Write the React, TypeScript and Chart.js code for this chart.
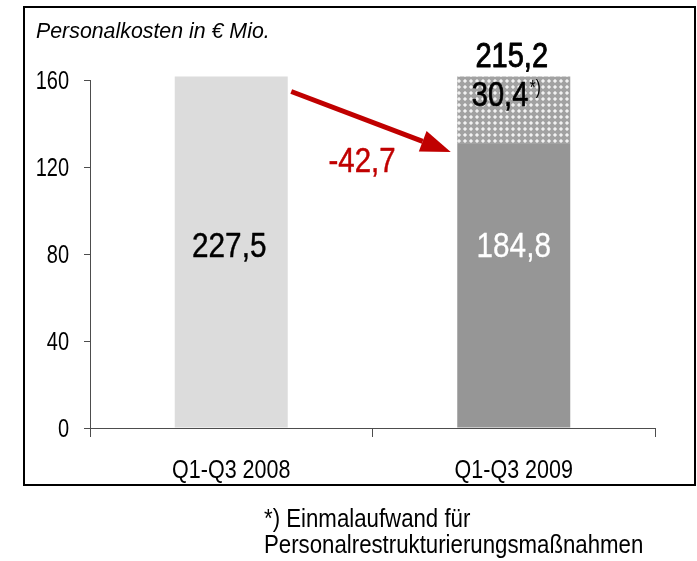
import React, { useEffect, useRef } from "react";
import { Chart, registerables } from "chart.js";

Chart.register(...registerables);

const categories = ["Q1-Q3 2008", "Q1-Q3 2009"];
// plotted heights (axis is truncated at 160, as in the original)
const baseValues = [161.6, 130.6];
const oneOffValues = [null, 31.0];
const baseLabels = ["227,5", "184,8"];
const oneOffLabel = "30,4";
const totalLabel2009 = "215,2";
const deltaLabel = "-42,7";
const yTicks = [0, 40, 80, 120, 160];
const title = "Personalkosten in € Mio.";
const footnote = ["*) Einmalaufwand für", "Personalrestrukturierungsmaßnahmen"];

const FONT = "'Liberation Sans', Arial, sans-serif";
const RED = "#c00000";
const AXIS = "#4d4d4d";

type TOpts = {
  size: number;
  align?: CanvasTextAlign;
  color?: string;
  italic?: boolean;
  bold?: boolean;
  sx?: number;
  stroke?: number;
};

function txt(ctx: CanvasRenderingContext2D, s: string, x: number, y: number, o: TOpts) {
  ctx.save();
  ctx.font = `${o.italic ? "italic " : ""}${o.bold ? "bold " : ""}${o.size}px ${FONT}`;
  ctx.translate(x, y);
  ctx.scale(o.sx ?? 0.85, 1);
  ctx.textAlign = o.align ?? "left";
  ctx.textBaseline = "alphabetic";
  ctx.fillStyle = o.color ?? "#000000";
  ctx.fillText(s, 0, 0);
  if (o.stroke) {
    ctx.lineWidth = o.stroke;
    ctx.strokeStyle = o.color ?? "#000000";
    ctx.lineJoin = "round";
    ctx.strokeText(s, 0, 0);
  }
  ctx.restore();
}

function makePattern(): CanvasPattern | string {
  const c = document.createElement("canvas");
  c.width = 6;
  c.height = 6;
  const g = c.getContext("2d");
  if (!g) return "#c0c0c0";
  g.fillStyle = "#a2a2a2";
  g.fillRect(0, 0, 6, 6);
  g.fillStyle = "#d2d2d2";
  g.fillRect(2, 1, 2, 4);
  g.fillRect(1, 2, 4, 2);
  g.fillStyle = "#f2f2f2";
  g.fillRect(2, 2, 2, 2);
  const p = g.createPattern(c, "repeat");
  return p || "#c0c0c0";
}

const decorPlugin = {
  id: "decor",
  beforeDraw(chart: any) {
    const ctx = chart.ctx;
    ctx.save();
    ctx.fillStyle = "#ffffff";
    ctx.fillRect(0, 0, chart.width, chart.height);
    ctx.strokeStyle = "#000000";
    ctx.lineWidth = 2;
    ctx.strokeRect(24, 7, 671, 478);
    ctx.restore();
    txt(ctx, title, 36, 38, { size: 22, italic: true, sx: 0.97 });
    txt(ctx, footnote[0], 264, 527, { size: 26, sx: 0.855 });
    txt(ctx, footnote[1], 264, 553, { size: 26, sx: 0.855 });
  },
  afterDraw(chart: any) {
    const ctx = chart.ctx;
    const ys = chart.scales.y;
    const xs = chart.scales.x;
    yTicks.forEach((v) => {
      txt(ctx, String(v), ys.right - 21, ys.getPixelForValue(v) + 9, { size: 25, align: "right", sx: 0.8 });
    });
    categories.forEach((c, i) => {
      txt(ctx, c, xs.getPixelForValue(i), 478, { size: 25, align: "center", sx: 0.86 });
    });
  },
  afterDatasetsDraw(chart: any) {
    const ctx = chart.ctx;
    const base = chart.getDatasetMeta(0).data;
    const extra = chart.getDatasetMeta(1).data;
    const yMid = chart.scales.y.getPixelForValue(78.5);
    txt(ctx, baseLabels[0], base[0].x - 2, yMid, { size: 35, align: "center", sx: 0.85, stroke: 0.45 });
    txt(ctx, baseLabels[1], base[1].x, yMid, { size: 35, align: "center", sx: 0.85, color: "#ffffff", stroke: 0.3 });

    const e = extra[1];
    txt(ctx, oneOffLabel, e.x - 42, e.y + 29, { size: 35, sx: 0.83, stroke: 0.7 });
    txt(ctx, "*)", e.x + 16, e.y + 17, { size: 21, sx: 0.72 });
    txt(ctx, totalLabel2009, e.x - 2, e.y - 10, { size: 35, align: "center", sx: 0.83, stroke: 0.9 });

    // arrow from 2008 bar top to 2009 bar
    const x0 = base[0].x + 60;
    const y0 = base[0].y + 15;
    const x1 = base[1].x - 63;
    const y1 = base[1].y + 8;
    const ang = Math.atan2(y1 - y0, x1 - x0);
    const headLen = 30;
    const headW = 11;
    const bx = x1 - headLen * Math.cos(ang);
    const by = y1 - headLen * Math.sin(ang);
    ctx.save();
    ctx.strokeStyle = RED;
    ctx.lineWidth = 5;
    ctx.beginPath();
    ctx.moveTo(x0, y0);
    ctx.lineTo(bx, by);
    ctx.stroke();
    ctx.fillStyle = RED;
    ctx.beginPath();
    ctx.moveTo(x1, y1);
    ctx.lineTo(bx + headW * Math.sin(ang), by - headW * Math.cos(ang));
    ctx.lineTo(bx - headW * Math.sin(ang), by + headW * Math.cos(ang));
    ctx.closePath();
    ctx.fill();
    ctx.restore();

    txt(ctx, deltaLabel, 362, 172, { size: 35, align: "center", sx: 0.84, color: RED, stroke: 0.5 });
  },
};

export default function App() {
  const ref = useRef<HTMLCanvasElement | null>(null);
  useEffect(() => {
    if (!ref.current) return;
    const pattern = makePattern();
    const chart = new Chart(ref.current, {
      type: "bar",
      data: {
        labels: categories,
        datasets: [
          {
            label: "Personalkosten",
            data: baseValues,
            backgroundColor: ["#dcdcdc", "#969696"],
            borderWidth: 0,
            categoryPercentage: 1,
            barPercentage: 0.4,
            clip: false as any,
          },
          {
            label: "Einmalaufwand",
            data: oneOffValues as any,
            backgroundColor: pattern as any,
            borderWidth: 0,
            categoryPercentage: 1,
            barPercentage: 0.4,
            clip: false as any,
          },
        ],
      },
      options: {
        animation: false,
        responsive: false,
        layout: { padding: { left: 0, right: 42, top: 80, bottom: 83 } },
        plugins: { legend: { display: false }, tooltip: { enabled: false } },
        scales: {
          x: {
            stacked: true,
            afterFit: (s: any) => {
              s.height = 50;
            },
            grid: {
              display: true,
              drawOnChartArea: false,
              drawTicks: true,
              tickLength: 9,
              color: AXIS,
              offset: true,
            },
            border: { display: true, color: AXIS, width: 1 },
            ticks: { display: false },
          },
          y: {
            stacked: true,
            min: 0,
            max: 160,
            afterFit: (s: any) => {
              s.width = 90;
            },
            afterBuildTicks: (s: any) => {
              s.ticks = yTicks.map((v) => ({ value: v }));
            },
            grid: {
              display: true,
              drawOnChartArea: false,
              drawTicks: true,
              tickLength: 6,
              color: AXIS,
            },
            border: { display: true, color: AXIS, width: 1 },
            ticks: { display: false },
          },
        },
      },
      plugins: [decorPlugin],
    });
    return () => chart.destroy();
  }, []);
  return (
    <div style={{ position: "fixed", left: 0, top: 0, width: 697, height: 561 }}>
      <canvas ref={ref} width={697} height={561} style={{ width: 697, height: 561, display: "block" }} />
    </div>
  );
}
